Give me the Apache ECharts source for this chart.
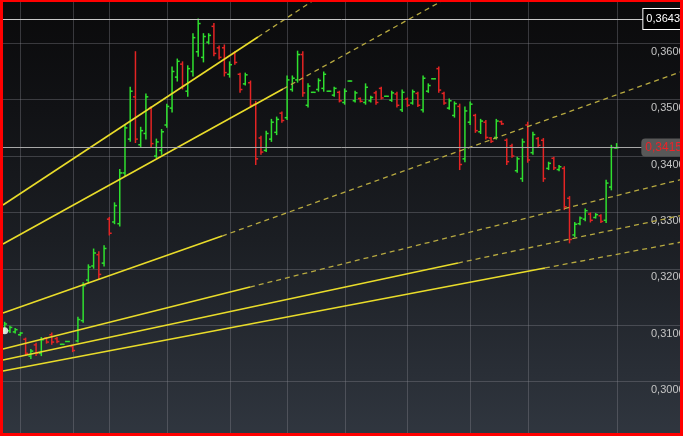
<!DOCTYPE html>
<html><head><meta charset="utf-8">
<script src="https://cdn.jsdelivr.net/npm/echarts@6/dist/echarts.min.js"></script>
<style>
html,body{margin:0;padding:0;background:#000;}
#wrap{position:relative;width:683px;height:436px;overflow:hidden;background:linear-gradient(to bottom,#0a0a0b 0%,#111215 25%,#1b1e23 55%,#292e36 85%,#30363f 100%);}
#chart{position:absolute;left:0;top:0;width:683px;height:436px;}
#frame{position:absolute;left:0;top:0;width:683px;height:436px;box-sizing:border-box;border:3px solid #ff0000;border-top-width:2px;pointer-events:none;}
</style></head>
<body><div id="wrap"><div id="chart"></div><div id="frame"></div></div>
<script>
// ---- data ----
const opens = [.3090,.3090,.3088,.3083,.3075,.3045,.3065,.3050,.3077,.3083,
.3076,.3066,.3071,.3062,.3072,.3108,.3180,.3205,.3225,.3210,
.3288,.3283,.3280,.3370,.3430,.3505,.3420,.3440,.3485,.3400,
.3410,.3455,.3485,.3540,.3563,.3515,.3550,.3585,.3575,.3602,
.3630,.3592,.3592,.3545,.3582,.3545,.3528,.3530,.3492,.3432,
.3410,.3430,.3442,.3476,.3468,.3518,.3535,.3580,.3490,.3513,
.3518,.3520,.3515,.3508,.3513,.3495,.3533,.3498,.3502,.3495,
.3498,.3512,.3520,.3506,.3499,.3510,.3482,.3501,.3494,.3511,
.3482,.3515,.3537,.3555,.3511,.3485,.3472,.3488,.3395,.3460,
.3472,.3443,.3460,.3432,.3433,.3461,.3428,.3418,.3374,.3360,
.3455,.3406,.3431,.3428,.3378,.3396,.3376,.3378,.3325,.3260,
.3280,.3288,.3297,.3291,.3294,.3286,.3345,.3414];
const highs = [.3105,.3098,.3094,.3087,.3077,.3057,.3068,.3078,.3078,.3086,
.3078,.3066,.3071,.3064,.3114,.3175,.3207,.3235,.3230,.3241,
.3291,.3317,.3376,.3456,.3522,.3585,.3451,.3510,.3488,.3430,
.3447,.3492,.3558,.3572,.3567,.3560,.3617,.3643,.3617,.3617,
.3635,.3595,.3597,.3567,.3585,.3547,.3547,.3533,.3497,.3435,
.3444,.3465,.3469,.3478,.3542,.3542,.3586,.3585,.3528,.3513,
.3537,.3549,.3515,.3522,.3515,.3519,.3533,.3515,.3503,.3528,
.3506,.3515,.3522,.3506,.3515,.3513,.3517,.3503,.3517,.3513,
.3542,.3528,.3537,.3558,.3513,.3501,.3496,.3492,.3487,.3496,
.3474,.3465,.3463,.3433,.3465,.3462,.3430,.3421,.3398,.3430,
.3460,.3442,.3433,.3431,.3389,.3398,.3383,.3381,.3328,.3282,
.3292,.3306,.3299,.3298,.3296,.3357,.3419,.3422];
const lows = [.3086,.3087,.3086,.3082,.3046,.3041,.3046,.3046,.3068,.3066,
.3069,.3066,.3071,.3053,.3070,.3105,.3176,.3201,.3182,.3205,
.3260,.3280,.3276,.3364,.3426,.3424,.3417,.3430,.3417,.3397,
.3403,.3451,.3478,.3533,.3519,.3506,.3542,.3577,.3567,.3599,
.3578,.3572,.3542,.3540,.3563,.3513,.3526,.3487,.3385,.3403,
.3408,.3426,.3438,.3460,.3465,.3515,.3531,.3506,.3487,.3513,
.3515,.3515,.3515,.3506,.3496,.3492,.3533,.3496,.3496,.3492,
.3496,.3492,.3501,.3506,.3497,.3487,.3479,.3488,.3492,.3488,
.3478,.3513,.3537,.3513,.3492,.3483,.3469,.3376,.3390,.3456,
.3442,.3440,.3430,.3424,.3430,.3456,.3385,.3398,.3371,.3355,
.3389,.3403,.3417,.3355,.3376,.3376,.3374,.3305,.3246,.3257,
.3278,.3285,.3283,.3290,.3282,.3282,.3340,.3414];
const closes = [.3102,.3096,.3092,.3086,.3050,.3054,.3050,.3074,.3070,.3070,
.3071,.3066,.3071,.3055,.3110,.3170,.3203,.3228,.3190,.3236,
.3263,.3312,.3370,.3450,.3515,.3430,.3445,.3505,.3422,.3425,
.3443,.3488,.3550,.3568,.3525,.3555,.3610,.3635,.3612,.3614,
.3582,.3575,.3548,.3562,.3566,.3518,.3544,.3490,.3395,.3407,
.3440,.3460,.3465,.3463,.3535,.3538,.3580,.3512,.3524,.3513,
.3534,.3545,.3515,.3520,.3498,.3515,.3533,.3512,.3497,.3522,
.3504,.3495,.3503,.3506,.3512,.3490,.3513,.3490,.3514,.3490,
.3538,.3525,.3537,.3517,.3494,.3498,.3493,.3385,.3480,.3492,
.3445,.3462,.3433,.3426,.3462,.3457,.3390,.3400,.3395,.3425,
.3393,.3438,.3419,.3360,.3387,.3379,.3381,.3310,.3252,.3279,
.3290,.3303,.3286,.3296,.3284,.3352,.3415,.3415];

// vertical grid lines (bar indices)
const vGridIdx = [3,13,20,31,43,54,65,77,89,100,117];
// price markers
const periodHigh = 0.3643;
const lastPrice = 0.3415;
// start marker
const startDot = [0, 0.3090];

// trend lines: [start, end of solid part, end of dashed extension] as [barIndex, price]
const lineA = [[-0.33, 0.33131], [48.43, 0.36111], [59.14, 0.36768]];
const lineB = [[-0.33, 0.32439], [53.21, 0.35189], [84.76, 0.36810]];
const lineC = [[-0.33, 0.31215], [41.55, 0.32581], [129.7, 0.35508]];
const lineD = [[-0.33, 0.30577], [46.90, 0.31676], [129.7, 0.33592]];
const lineE = [[-0.33, 0.30381], [86.67, 0.32102], [129.7, 0.32954]];
const lineF = [[-0.33, 0.30186], [103.3, 0.32014], [129.7, 0.32480]];
const trendLines = [lineA, lineB, lineC, lineD, lineE, lineF];

// ---- styling ----
const GREEN = '#2fe02f', RED = '#e42424';
const GRID = 'rgba(140,140,150,0.35)';
const FONT = 'Liberation Sans, Arial, sans-serif';
const fmt = v => v.toFixed(4).replace('.', ',');

const ohlc = opens.map((o, i) => [i, o, closes[i], lows[i], highs[i]]);

function renderOHLC(params, api) {
  const i = api.value(0);
  const o = api.value(1), c = api.value(2), l = api.value(3), h = api.value(4);
  const pH = api.coord([i, h]), pL = api.coord([i, l]);
  const pO = api.coord([i, o]), pC = api.coord([i, c]);
  const color = c >= o ? GREEN : RED;
  const st = {stroke: color, lineWidth: 1.5};
  const w = 2.4;
  return {type: 'group', children: [
    {type: 'line', shape: {x1: pH[0], y1: pH[1] - 0.5, x2: pL[0], y2: pL[1] + 0.5}, style: st},
    {type: 'line', shape: {x1: pO[0] - w, y1: pO[1], x2: pO[0], y2: pO[1]}, style: st},
    {type: 'line', shape: {x1: pC[0], y1: pC[1], x2: pC[0] + w, y2: pC[1]}, style: st}
  ]};
}

function renderVGrid(params, api) {
  const cs = params.coordSys;
  const p = api.coord([api.value(0), api.value(1)]);
  const x = Math.round(p[0]) + 0.5;
  return {type: 'line', shape: {x1: x, y1: cs.y, x2: x, y2: cs.y + cs.height},
          style: {stroke: GRID, lineWidth: 1}};
}

const series = [
  {type: 'custom', name: 'vgrid', z: 0, silent: true, renderItem: renderVGrid,
   data: vGridIdx.map(v => [v, 0.33]), encode: {x: 0, y: 1}},
  {type: 'custom', name: 'ohlc', z: 2, silent: true, renderItem: renderOHLC,
   data: ohlc, encode: {x: 0, y: [1, 2, 3, 4]}}
];
trendLines.forEach((ln, k) => {
  const s = {type: 'line', z: 3, silent: true, symbol: 'none', data: [ln[0], ln[1]],
     lineStyle: {color: '#e9dc2a', width: 1.6}};
  if (k === 0) {
    s.markLine = {silent: true, symbol: ['none', 'none'], animation: false, precision: 6, data: [
      {yAxis: periodHigh, lineStyle: {color: '#c8c8c8', width: 1, type: 'solid'},
       label: {show: true, position: 'insideEnd', distance: 1, formatter: fmt(periodHigh),
               color: '#ffffff', fontSize: 11, fontFamily: FONT, backgroundColor: '#000000',
               borderColor: '#ffffff', borderWidth: 1, padding: [5, 2, 4, 3]}},
      {yAxis: lastPrice, lineStyle: {color: '#a8a8a8', width: 1, type: 'solid'},
       label: {show: true, position: 'insideEnd', distance: -3, formatter: fmt(lastPrice),
               color: '#ee2228', fontSize: 12, fontFamily: FONT,
               backgroundColor: '#585858', borderRadius: 4, padding: [3, 4, 3, 4]}}
    ]};
  }
  series.push(s);
  series.push({type: 'line', z: 3, silent: true, symbol: 'none', data: [ln[1], ln[2]],
     lineStyle: {color: '#b7a940', width: 1.3, type: [5, 4]}});
});
series.push({type: 'scatter', z: 5, silent: true, data: [startDot], symbolSize: 7,
  itemStyle: {color: '#ffffff'}});

const chart = echarts.init(document.getElementById('chart'), null, {renderer: 'canvas'});
chart.setOption({
  animation: false,
  backgroundColor: 'transparent',
  grid: {left: 0, right: 0, top: -13.1, height: 451, containLabel: false, outerBoundsMode: 'none'},
  xAxis: {type: 'value', min: -0.9, max: 129.7,
    axisLine: {show: false}, axisTick: {show: false}, axisLabel: {show: false}, splitLine: {show: false}},
  yAxis: {type: 'value', position: 'right', min: 0.29, max: 0.37, interval: 0.01, scale: true,
    axisLine: {show: false}, axisTick: {show: false},
    splitLine: {show: true, lineStyle: {color: GRID, width: 1}},
    axisLabel: {inside: true, margin: 32, align: 'left', verticalAlign: 'top', padding: [3, 0, 0, 0],
      color: '#c4c4c4', fontSize: 11, fontFamily: FONT, showMinLabel: false, showMaxLabel: false,
      formatter: v => fmt(v)}},
  series: series
});
</script></body></html>
